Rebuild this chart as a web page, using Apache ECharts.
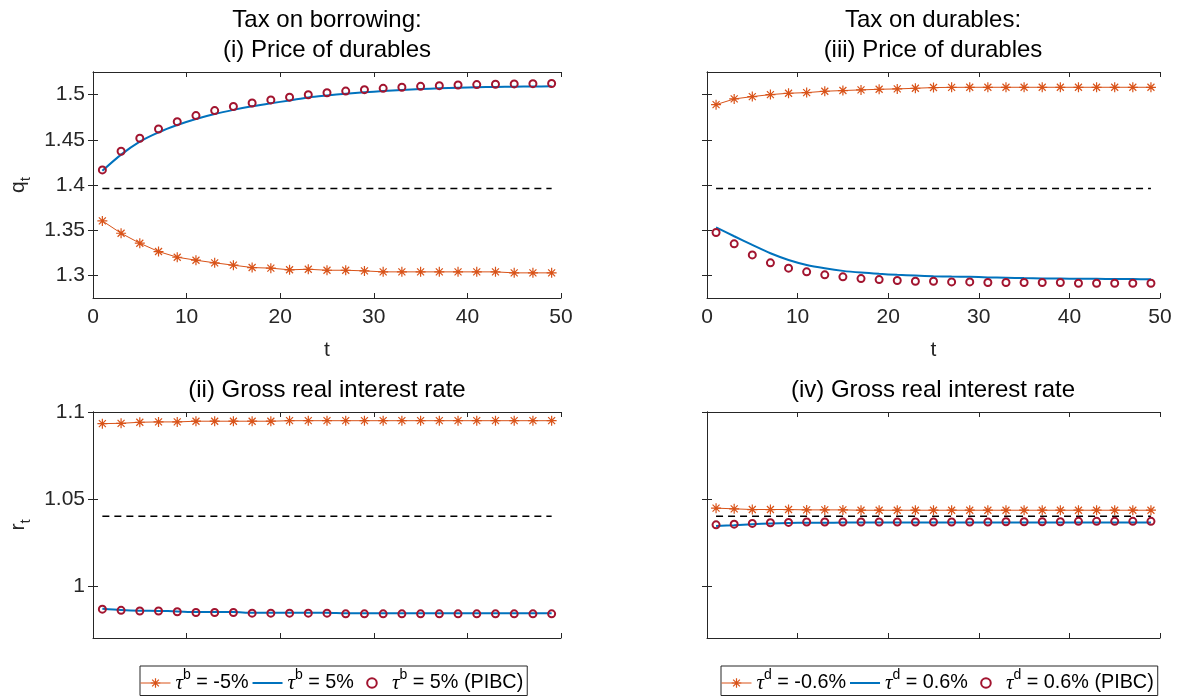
<!DOCTYPE html>
<html>
<head>
<meta charset="utf-8">
<title>Tax on borrowing / tax on durables</title>
<script src="https://cdn.jsdelivr.net/npm/echarts@6/dist/echarts.min.js"></script>
<style>
  html, body { margin: 0; padding: 0; background: #fff; }
  #main { width: 1192px; height: 696px; }
</style>
</head>
<body>
<div id="main"></div>
<script>
// periods where the markers sit (every second period)
var t = [1, 3, 5, 7, 9, 11, 13, 15, 17, 19, 21, 23, 25, 27, 29, 31, 33, 35, 37, 39, 41, 43, 45, 47, 49];

// steady state levels (dashed lines)
var qSS = 1.396;
var rSS = 1.04;

// (i) price of durables, tax on borrowing
var qBorrowNeg = [1.3603, 1.3466, 1.3356, 1.3264, 1.3201, 1.3168, 1.3139, 1.3113, 1.3087, 1.3080, 1.3062, 1.3068, 1.3057, 1.3057, 1.3050, 1.3039, 1.3039, 1.3039, 1.3039, 1.3039, 1.3039, 1.3039, 1.3028, 1.3028, 1.3028];
var qBorrowPos = [1.4157, 1.4336, 1.4480, 1.4583, 1.4664, 1.4731, 1.4786, 1.4831, 1.4870, 1.4904, 1.4935, 1.4968, 1.4990, 1.5009, 1.5025, 1.5039, 1.5051, 1.5061, 1.5069, 1.5076, 1.5081, 1.5085, 1.5088, 1.5090, 1.5092];
var qBorrowPibc = [1.4167, 1.4373, 1.4517, 1.4620, 1.4701, 1.4768, 1.4823, 1.4868, 1.4907, 1.4941, 1.4972, 1.4998, 1.5020, 1.5039, 1.5055, 1.5069, 1.5081, 1.5091, 1.5099, 1.5106, 1.5111, 1.5115, 1.5118, 1.5121, 1.5123];

// (ii) gross real interest rate, tax on borrowing
var rBorrowNeg = [1.0933, 1.0935, 1.0941, 1.0943, 1.0943, 1.0947, 1.0947, 1.0947, 1.0947, 1.0947, 1.0950, 1.0950, 1.0950, 1.0950, 1.0950, 1.0950, 1.0950, 1.0950, 1.0950, 1.0950, 1.0950, 1.0950, 1.0950, 1.0950, 1.0950];
var rBorrowPos = [0.9868, 0.9861, 0.9857, 0.9856, 0.9853, 0.9849, 0.9849, 0.9849, 0.9845, 0.9845, 0.9845, 0.9845, 0.9845, 0.9842, 0.9842, 0.9842, 0.9842, 0.9842, 0.9842, 0.9842, 0.9842, 0.9842, 0.9842, 0.9842, 0.9842];
var rBorrowPibc = [0.9866, 0.9859, 0.9855, 0.9855, 0.9851, 0.9847, 0.9847, 0.9847, 0.9843, 0.9843, 0.9843, 0.9843, 0.9843, 0.9839, 0.9839, 0.9839, 0.9839, 0.9839, 0.9839, 0.9839, 0.9839, 0.9839, 0.9839, 0.9839, 0.9839];

// (iii) price of durables, tax on durables
var qDurNeg = [1.4889, 1.4952, 1.4978, 1.5000, 1.5015, 1.5022, 1.5037, 1.5045, 1.5052, 1.5059, 1.5063, 1.5070, 1.5078, 1.5080, 1.5081, 1.5081, 1.5081, 1.5081, 1.5081, 1.5081, 1.5081, 1.5081, 1.5081, 1.5081, 1.5081];
var qDurPos = [1.3532, 1.3433, 1.3337, 1.3245, 1.3171, 1.3116, 1.3079, 1.3050, 1.3031, 1.3017, 1.3006, 1.2998, 1.2991, 1.2987, 1.2984, 1.2978, 1.2974, 1.2970, 1.2967, 1.2965, 1.2963, 1.2962, 1.2960, 1.2959, 1.2958];
var qDurPibc = [1.3474, 1.3349, 1.3227, 1.3139, 1.3080, 1.3039, 1.3006, 1.2984, 1.2965, 1.2954, 1.2943, 1.2935, 1.2935, 1.2928, 1.2928, 1.2921, 1.2921, 1.2921, 1.2921, 1.2921, 1.2913, 1.2913, 1.2913, 1.2913, 1.2913];

// (iv) gross real interest rate, tax on durables
var rDurNeg = [1.0447, 1.0443, 1.0439, 1.0439, 1.0439, 1.0437, 1.0437, 1.0437, 1.0435, 1.0435, 1.0435, 1.0435, 1.0435, 1.0435, 1.0435, 1.0435, 1.0435, 1.0435, 1.0435, 1.0435, 1.0435, 1.0435, 1.0435, 1.0435, 1.0435];
var rDurPos = [1.0344, 1.0349, 1.0355, 1.0359, 1.0362, 1.0363, 1.0363, 1.0364, 1.0364, 1.0364, 1.0364, 1.0364, 1.0365, 1.0365, 1.0365, 1.0365, 1.0365, 1.0365, 1.0365, 1.0365, 1.0365, 1.0365, 1.0365, 1.0365, 1.0365];
var rDurPibc = [1.0351, 1.0355, 1.0359, 1.0363, 1.0365, 1.0367, 1.0367, 1.0367, 1.0367, 1.0367, 1.0367, 1.0367, 1.0367, 1.0367, 1.0367, 1.0367, 1.0369, 1.0369, 1.0369, 1.0369, 1.0371, 1.0371, 1.0371, 1.0371, 1.0371];

// tick labels
var qTicks = [1.3, 1.35, 1.4, 1.45, 1.5];
var rTicks = [1, 1.05, 1.1];

var borrowNames = ['τb = -5%', 'τb = 5%', 'τb = 5% (PIBC)'];
var durNames = ['τd = -0.6%', 'τd = 0.6%', 'τd = 0.6% (PIBC)'];

var ORANGE = '#D95319';
var BLUE = '#0072BD';
var RED = '#A2142F';
var AXIS = '#262626';
var FONT = 'Liberation Sans';
var STAR = 'path://M0,5L10,5M5,0L5,10M1.5,1.5L8.5,8.5M1.5,8.5L8.5,1.5';

// plot boxes in pixels
var boxes = [
  { left: 93, top: 72, width: 468, height: 226 },   // (i)
  { left: 707, top: 72, width: 453, height: 226 },  // (iii)
  { left: 93, top: 412, width: 468, height: 226 },  // (ii)
  { left: 707, top: 412, width: 453, height: 226 }  // (iv)
];

function pairs(ys) {
  return t.map(function (x, i) { return [x, ys[i]]; });
}

var lineAxis = {
  show: true,
  lineStyle: { color: AXIS, width: 1 }
};
var tickStyle = { color: AXIS, width: 1 };

// every box gets ticks on all four sides, labels only where the reference has them
function xAxes(gi, labels) {
  return [
    {
      type: 'value', gridIndex: gi, position: 'bottom', min: 0, max: 50, interval: 10,
      axisLine: lineAxis, splitLine: { show: false },
      axisTick: { inside: true, length: 5, lineStyle: tickStyle },
      axisLabel: { show: labels, margin: 9, color: AXIS, fontSize: 21, fontFamily: FONT },
      name: labels ? 't' : '', nameLocation: 'middle', nameGap: 42,
      nameTextStyle: { color: AXIS, fontSize: 21, fontFamily: FONT }
    },
    {
      type: 'value', gridIndex: gi, position: 'top', min: 0, max: 50, interval: 10,
      axisLine: lineAxis, splitLine: { show: false },
      axisTick: { inside: true, length: 5, lineStyle: tickStyle },
      axisLabel: { show: false }
    }
  ];
}

function yAxes(gi, min, max, ticks, labels, name) {
  return [
    {
      type: 'value', gridIndex: gi, position: 'left', min: min, max: max,
      axisLine: lineAxis, splitLine: { show: false },
      axisTick: { inside: true, length: 5, lineStyle: tickStyle, customValues: ticks },
      axisLabel: { show: labels, margin: 8, color: AXIS, fontSize: 21, fontFamily: FONT, customValues: ticks },
      name: name || '', nameLocation: 'middle', nameGap: 60, nameRotate: 90,
      nameTextStyle: {
        color: AXIS, fontFamily: FONT,
        rich: {
          v: { fontSize: 21, lineHeight: 30, color: AXIS, fontFamily: FONT },
          s: { fontSize: 15, lineHeight: 16, verticalAlign: 'bottom', color: AXIS, fontFamily: FONT }
        }
      }
    },
    {
      type: 'value', gridIndex: gi, position: 'right', min: min, max: max,
      axisLine: lineAxis, splitLine: { show: false },
      axisTick: { inside: true, length: 5, lineStyle: tickStyle, customValues: ticks },
      axisLabel: { show: false }
    }
  ];
}

function panel(gi, names, neg, pos, pibc, ss) {
  var ax = { xAxisIndex: gi * 2, yAxisIndex: gi * 2 };
  return [
    Object.assign({
      name: 'steady state', type: 'line', data: [[t[0], ss], [t[t.length - 1], ss]],
      symbol: 'none', silent: true,
      lineStyle: { color: '#000', width: 1.5, type: [7, 5] }
    }, ax),
    Object.assign({
      name: names[0], type: 'line', data: pairs(neg),
      symbol: STAR, symbolSize: 10, showAllSymbol: true,
      itemStyle: { color: ORANGE, borderColor: ORANGE, borderWidth: 1.2 },
      lineStyle: { color: ORANGE, width: 1 }
    }, ax),
    Object.assign({
      name: names[1], type: 'line', data: pairs(pos),
      symbol: 'none', smooth: 0.3,
      itemStyle: { color: BLUE },
      lineStyle: { color: BLUE, width: 2 }
    }, ax),
    Object.assign({
      name: names[2], type: 'line', data: pairs(pibc),
      symbol: 'circle', symbolSize: 7, showAllSymbol: true,
      itemStyle: { color: 'rgba(0,0,0,0)', borderColor: RED, borderWidth: 2 },
      lineStyle: { width: 0, opacity: 0 }
    }, ax)
  ];
}

function legendData(names) {
  return [
    { name: names[0], itemStyle: { color: ORANGE, borderColor: ORANGE, borderWidth: 1.2 }, lineStyle: { color: ORANGE, width: 1 } },
    { name: names[1], itemStyle: { opacity: 0 }, lineStyle: { color: BLUE, width: 2 } },
    { name: names[2], itemStyle: { color: 'rgba(0,0,0,0)', borderColor: RED, borderWidth: 2 }, lineStyle: { opacity: 0 } }
  ];
}

// "τb = 5%" -> italic tau with superscript letter
function legendLabel(name) {
  var m = name.match(/^τ(\w) (.*)$/);
  return '{tau|τ}{sup|' + m[1] + '}{txt| ' + m[2] + '}';
}

var legendRich = {
  tau: { fontFamily: 'Liberation Serif', fontStyle: 'italic', fontSize: 21, lineHeight: 30, color: '#000' },
  sup: { fontFamily: FONT, fontSize: 14, lineHeight: 16, verticalAlign: 'top', color: '#000' },
  txt: { fontFamily: FONT, fontSize: 19.8, lineHeight: 30, color: '#000' }
};

function legend(left, names) {
  return {
    left: left, top: 666, orient: 'horizontal',
    data: legendData(names),
    formatter: legendLabel,
    textStyle: { rich: legendRich },
    itemWidth: 30, itemHeight: 12, itemGap: 3,
    padding: [2, 4, 2, 0],
    borderColor: AXIS, borderWidth: 1,
    backgroundColor: '#fff',
    selectedMode: false
  };
}

function title(x, y, text) {
  return {
    type: 'text', x: x, y: y, silent: true,
    style: {
      text: text, fill: '#000', fontSize: 24, fontFamily: FONT,
      align: 'center', verticalAlign: 'top', lineHeight: 30
    }
  };
}

var chart = echarts.init(document.getElementById('main'), null, { renderer: 'canvas' });

chart.setOption({
  animation: false,
  backgroundColor: '#fff',
  grid: boxes.map(function (b) {
    return { left: b.left, top: b.top, width: b.width, height: b.height, containLabel: false, outerBoundsMode: 'none' };
  }),
  xAxis: [].concat(
    xAxes(0, true),
    xAxes(1, true),
    xAxes(2, false),
    xAxes(3, false)
  ),
  yAxis: [].concat(
    yAxes(0, 1.275, 1.525, qTicks, true, '{v|q}{s|t}'),
    yAxes(1, 1.275, 1.525, qTicks, false),
    yAxes(2, 0.97, 1.1, rTicks, true, '{v|r}{s|t}'),
    yAxes(3, 0.97, 1.1, rTicks, false)
  ),
  legend: [legend(140, borrowNames), legend(721, durNames)],
  graphic: [
    title(327, 5, 'Tax on borrowing:\n(i) Price of durables'),
    title(933, 5, 'Tax on durables:\n(iii) Price of durables'),
    title(327, 375, '(ii) Gross real interest rate'),
    title(933, 375, '(iv) Gross real interest rate')
  ],
  series: [].concat(
    panel(0, borrowNames, qBorrowNeg, qBorrowPos, qBorrowPibc, qSS),
    panel(1, durNames, qDurNeg, qDurPos, qDurPibc, qSS),
    panel(2, borrowNames, rBorrowNeg, rBorrowPos, rBorrowPibc, rSS),
    panel(3, durNames, rDurNeg, rDurPos, rDurPibc, rSS)
  )
});
</script>
</body>
</html>
